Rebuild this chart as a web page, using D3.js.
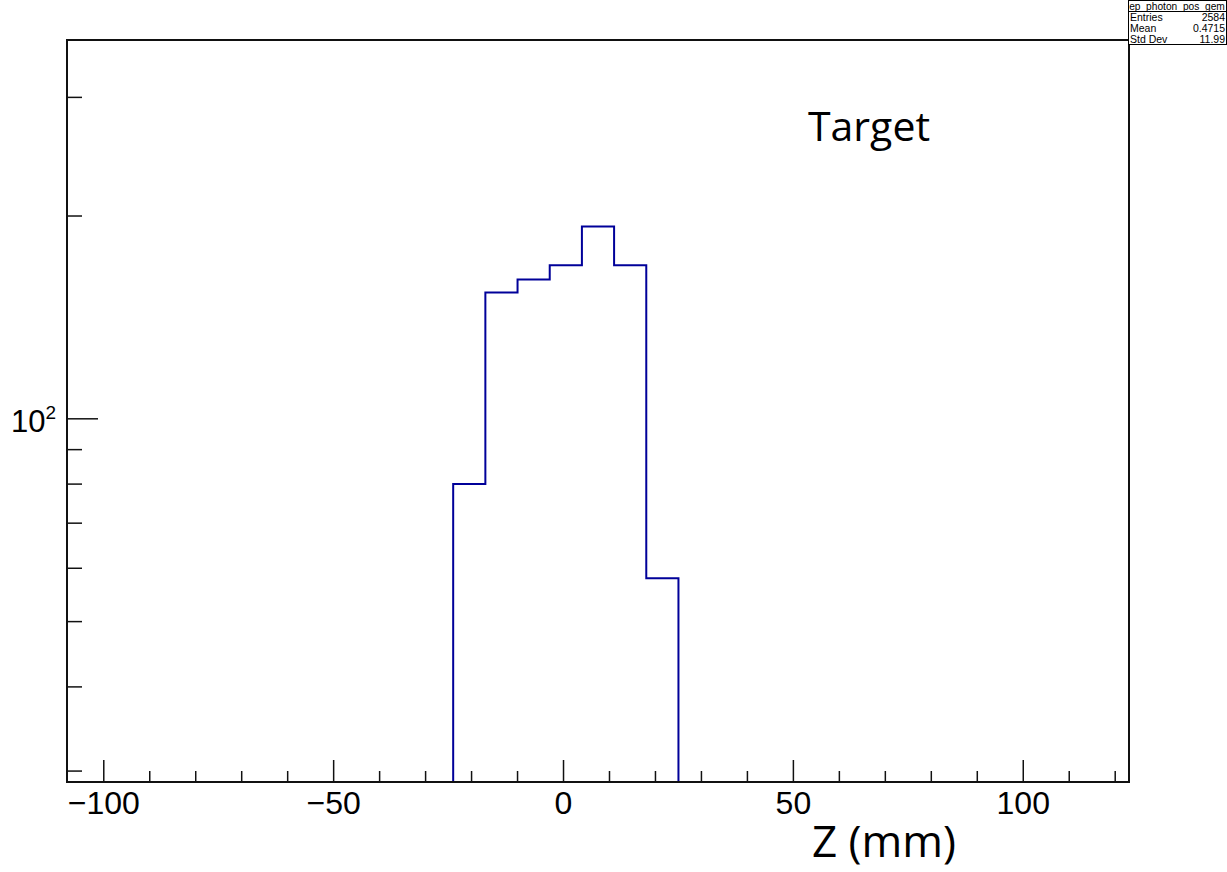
<!DOCTYPE html>
<html>
<head>
<meta charset="utf-8">
<script src="https://cdn.jsdelivr.net/npm/d3@7"></script>
<style>
  body { margin: 0; background: #fff; }
  svg { display: block; }
</style>
</head>
<body>
<div id="chart"></div>
<script>
// histogram contents (only non-empty bins, width 7 mm)
const binLow = [-24, -17, -10, -3, 4, 11, 18];
const binWidth = 7;
const counts = [80, 154, 161, 169, 193, 169, 58];

// axis ranges and ticks
const xRange = [-108, 123];
const yRange = [28.9, 365];
const xMajor = [-100, -50, 0, 50, 100];
const xMinor = [-90, -80, -70, -60, -40, -30, -20, -10, 10, 20, 30, 40, 60, 70, 80, 90, 110, 120];
const yMajor = [100];
const yMinor = [30, 40, 50, 60, 70, 80, 90, 200, 300];

const stats = [["Entries", "2584"], ["Mean", "0.4715"], ["Std Dev", "11.99"]];

const width = 1227, height = 872;
const frame = { left: 67, right: 1129, top: 40, bottom: 782 };

const svg = d3.select("#chart").append("svg")
  .attr("width", width)
  .attr("height", height);

const x = d3.scaleLinear().domain(xRange).range([frame.left, frame.right]);
const y = d3.scaleLog().domain(yRange).range([frame.bottom, frame.top]);

// histogram outline
let d = `M${x(binLow[0])},${y(yRange[0])}`;
binLow.forEach((lo, i) => {
  d += `V${y(counts[i])}H${x(lo + binWidth)}`;
});
d += `V${y(yRange[0])}`;

svg.append("path")
  .attr("d", d)
  .attr("fill", "none")
  .attr("stroke", "#000099")
  .attr("stroke-width", 2);

// x ticks
const tickColor = "#111";
svg.selectAll("line.xmaj")
  .data(xMajor)
  .enter().append("line")
  .attr("x1", v => x(v)).attr("x2", v => x(v))
  .attr("y1", frame.bottom).attr("y2", frame.bottom - 22)
  .attr("stroke", tickColor).attr("stroke-width", 1.5);

svg.selectAll("line.xmin")
  .data(xMinor)
  .enter().append("line")
  .attr("x1", v => x(v)).attr("x2", v => x(v))
  .attr("y1", frame.bottom).attr("y2", frame.bottom - 11)
  .attr("stroke", tickColor).attr("stroke-width", 1.5);

svg.selectAll("text.xlab")
  .data(xMajor)
  .enter().append("text")
  .attr("x", v => x(v))
  .attr("y", 814)
  .attr("text-anchor", "middle")
  .style("font-family", "Liberation Sans, Arial, sans-serif")
  .style("font-size", "32px")
  .text(v => v < 0 ? "\u2212" + Math.abs(v) : v);

// y ticks
svg.selectAll("line.ymaj")
  .data(yMajor)
  .enter().append("line")
  .attr("x1", frame.left).attr("x2", frame.left + 31)
  .attr("y1", v => y(v)).attr("y2", v => y(v))
  .attr("stroke", tickColor).attr("stroke-width", 1.5);

svg.selectAll("line.ymin")
  .data(yMinor)
  .enter().append("line")
  .attr("x1", frame.left).attr("x2", frame.left + 15)
  .attr("y1", v => y(v)).attr("y2", v => y(v))
  .attr("stroke", tickColor).attr("stroke-width", 1.5);

const ylab = svg.selectAll("text.ylab")
  .data(yMajor)
  .enter().append("text")
  .attr("x", 11)
  .attr("y", v => y(v) + 13)
  .style("font-family", "Liberation Sans, Arial, sans-serif")
  .style("font-size", "31px");
ylab.append("tspan").text("10");
ylab.append("tspan").attr("dy", -13).style("font-size", "19px").text(v => Math.log10(v));

// frame
svg.append("rect")
  .attr("x", frame.left).attr("y", frame.top)
  .attr("width", frame.right - frame.left)
  .attr("height", frame.bottom - frame.top)
  .attr("fill", "none")
  .attr("stroke", tickColor)
  .attr("stroke-width", 2);

// stats box
const sb = svg.append("g").attr("transform", "translate(1128,0)");
sb.append("rect")
  .attr("x", 0.5).attr("y", 0.5).attr("width", 98).attr("height", 44)
  .attr("fill", "#fff").attr("stroke", "#000").attr("stroke-width", 1);
sb.append("line")
  .attr("x1", 0).attr("x2", 99).attr("y1", 11.5).attr("y2", 11.5)
  .attr("stroke", "#000").attr("stroke-width", 1);
sb.append("text")
  .attr("x", 49).attr("y", 9.5)
  .attr("text-anchor", "middle")
  .style("font-family", "Liberation Sans, Arial, sans-serif")
  .style("font-size", "10.2px")
  .text("ep_photon_pos_gem");
stats.forEach((s, i) => {
  sb.append("text")
    .attr("x", 2).attr("y", 21 + i * 10.8)
    .style("font-family", "Liberation Sans, Arial, sans-serif")
    .style("font-size", "10.5px")
    .text(s[0]);
  sb.append("text")
    .attr("x", 97).attr("y", 21 + i * 10.8)
    .attr("text-anchor", "end")
    .style("font-family", "Liberation Sans, Arial, sans-serif")
    .style("font-size", "10.5px")
    .text(s[1]);
});

// annotations
svg.append("text")
  .attr("x", 808).attr("y", 141)
  .style("font-family", "Open Sans, sans-serif")
  .style("font-size", "41px")
  .text("Target");

svg.append("text")
  .attr("x", 812).attr("y", 857)
  .style("font-family", "Open Sans, sans-serif")
  .style("font-size", "44px")
  .text("Z (mm)");
</script>
</body>
</html>
